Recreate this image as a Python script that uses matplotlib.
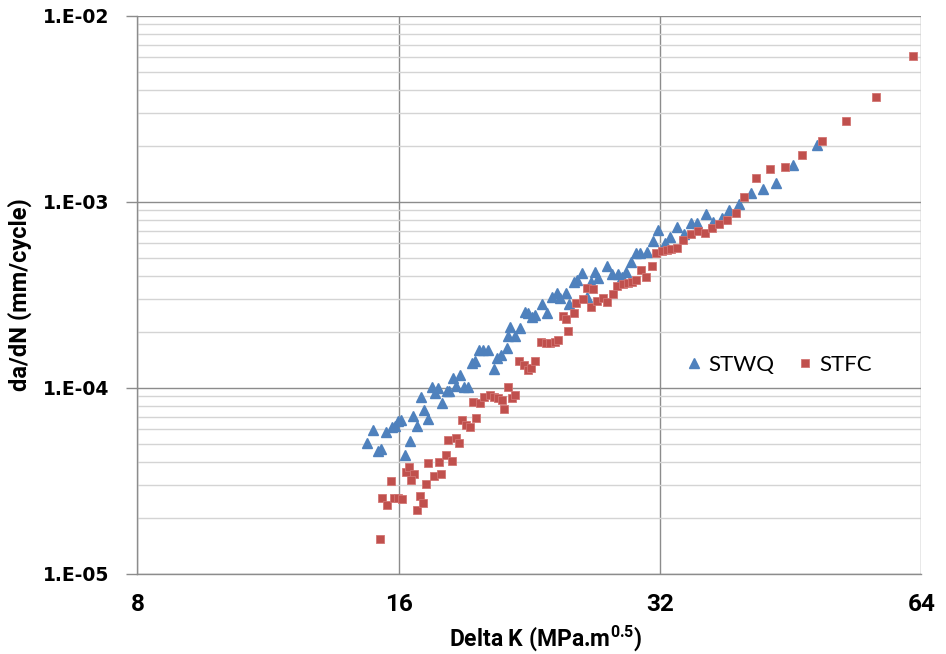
import matplotlib
matplotlib.use("Agg")
import matplotlib.pyplot as plt
from matplotlib.ticker import FixedLocator, LogLocator, NullFormatter, NullLocator

# STWQ (triangles) - Delta K and da/dN
stwq_dk = [14.73, 14.95, 15.16, 15.27, 15.47, 15.70, 15.84, 15.99, 16.12, 16.27,
           16.49, 16.63, 16.81, 16.97, 17.12, 17.31, 17.46, 17.62, 17.77, 17.97,
           18.17, 18.30, 18.46, 18.63, 18.83, 19.05, 19.24, 19.42, 19.61, 19.80,
           20.02, 20.27, 20.60, 20.77, 20.97, 21.31, 21.40, 21.48, 21.80, 22.09,
           22.37, 22.56, 22.77, 22.97, 23.40, 23.73, 24.01, 24.37, 24.54, 24.96,
           25.12, 25.47, 25.70, 26.00, 26.35, 26.63, 26.93, 27.17, 27.83, 28.15,
           28.65, 28.91, 29.24, 29.61, 30.03, 30.35, 30.94, 31.44, 31.81, 32.47,
           32.90, 33.49, 34.08, 34.72, 35.30, 36.14, 36.86, 37.69, 38.45, 39.48,
           40.70, 42.09, 43.56, 45.57, 48.53]
stwq_dadn = [5.02e-5, 5.89e-5, 4.54e-5, 4.68e-5, 5.80e-5, 6.15e-5, 6.26e-5, 6.65e-5, 6.71e-5, 4.35e-5,
             5.20e-5, 7.04e-5, 6.22e-5, 8.94e-5, 7.56e-5, 6.77e-5, 1.005e-4, 9.36e-5, 9.93e-5, 8.30e-5,
             9.63e-5, 9.63e-5, 1.123e-4, 1.021e-4, 1.170e-4, 1.009e-4, 1.009e-4, 1.352e-4, 1.391e-4, 1.595e-4,
             1.595e-4, 1.595e-4, 1.257e-4, 1.439e-4, 1.490e-4, 1.635e-4, 1.908e-4, 2.128e-4, 1.889e-4, 2.086e-4,
             2.562e-4, 2.512e-4, 2.408e-4, 2.460e-4, 2.801e-4, 2.521e-4, 3.085e-4, 3.241e-4, 3.036e-4, 3.229e-4,
             2.829e-4, 3.715e-4, 3.793e-4, 4.121e-4, 3.085e-4, 3.715e-4, 4.203e-4, 3.874e-4, 4.511e-4, 4.085e-4,
             4.085e-4, 3.951e-4, 4.203e-4, 4.757e-4, 5.319e-4, 5.319e-4, 5.385e-4, 6.185e-4, 7.043e-4, 6.019e-4,
             6.435e-4, 7.311e-4, 6.706e-4, 7.683e-4, 7.711e-4, 8.567e-4, 7.730e-4, 8.144e-4, 9.057e-4, 9.755e-4,
             1.114e-3, 1.173e-3, 1.256e-3, 1.575e-3, 2.018e-3]

# STFC (squares)
stfc_dk = [15.23, 15.29, 15.50, 15.68, 15.79, 15.96, 16.14, 16.33, 16.46, 16.65,
           16.53, 16.81, 16.93, 17.07, 17.19, 17.31, 17.58, 17.81, 17.92, 18.13,
           18.45, 18.25, 18.62, 18.79, 18.91, 19.13, 19.33, 19.66, 19.50, 19.85,
           20.09, 20.36, 20.59, 20.81, 21.05, 21.14, 21.40, 21.59, 21.78, 22.00,
           22.32, 22.52, 22.73, 23.00, 23.33, 23.64, 23.90, 24.22, 24.43, 24.76,
           24.94, 25.09, 25.45, 25.62, 26.07, 26.35, 26.81, 26.63, 27.10, 27.49,
           27.78, 28.23, 28.57, 29.03, 29.42, 29.69, 30.03, 30.41, 30.83, 31.30,
           31.66, 32.21, 32.58, 32.99, 33.50, 34.04, 34.72, 35.38, 36.06, 36.70,
           37.45, 38.26, 39.14, 39.99, 41.28, 42.85, 44.59, 46.60, 49.14, 52.42,
           56.75, 62.65]
stfc_dadn = [1.53e-5, 2.54e-5, 2.34e-5, 3.14e-5, 2.54e-5, 2.54e-5, 2.51e-5, 3.51e-5, 3.75e-5, 3.45e-5,
             3.20e-5, 2.21e-5, 2.62e-5, 2.40e-5, 3.04e-5, 3.94e-5, 3.36e-5, 3.99e-5, 3.44e-5, 4.36e-5,
             4.02e-5, 5.23e-5, 5.38e-5, 5.04e-5, 6.69e-5, 6.34e-5, 6.15e-5, 6.90e-5, 8.41e-5, 8.27e-5,
             8.86e-5, 9.08e-5, 8.91e-5, 8.77e-5, 8.62e-5, 7.70e-5, 1.005e-4, 8.82e-5, 9.19e-5, 1.388e-4,
             1.324e-4, 1.249e-4, 1.276e-4, 1.391e-4, 1.768e-4, 1.733e-4, 1.733e-4, 1.768e-4, 1.805e-4, 2.429e-4,
             2.332e-4, 2.013e-4, 2.530e-4, 2.843e-4, 2.987e-4, 3.423e-4, 3.381e-4, 2.705e-4, 2.936e-4, 3.024e-4,
             2.900e-4, 3.190e-4, 3.522e-4, 3.610e-4, 3.669e-4, 3.715e-4, 3.793e-4, 4.292e-4, 3.951e-4, 4.511e-4,
             5.300e-4, 5.452e-4, 5.499e-4, 5.547e-4, 5.637e-4, 6.224e-4, 6.666e-4, 6.983e-4, 6.812e-4, 7.194e-4,
             7.542e-4, 8.003e-4, 8.663e-4, 1.060e-3, 1.341e-3, 1.493e-3, 1.542e-3, 1.783e-3, 2.120e-3, 2.726e-3,
             3.668e-3, 6.094e-3]

x_ticks = [8, 16, 32, 64]
x_tick_labels = ["8", "16", "32", "64"]
y_ticks = [1e-5, 1e-4, 1e-3, 1e-2]
y_tick_labels = ["1.E-05", "1.E-04", "1.E-03", "1.E-02"]

BLUE = "#4f81bd"
RED = "#c0504d"
MAJOR_GRID = "#8c8c8c"
MINOR_GRID = "#d4d4d4"
BOLD_NARROW = ["Roboto", "DejaVu Sans"]
LEGEND_FONT = ["Lato", "DejaVu Sans"]

fig = plt.figure(figsize=(9.46, 6.54), dpi=100)
ax = fig.add_axes([0.1452, 0.1228, 0.8287, 0.8532])

ax.set_xscale("log", base=2)
ax.set_yscale("log")
ax.set_xlim(8, 64)
ax.set_ylim(1e-5, 1e-2)

ax.plot(stwq_dk, stwq_dadn, linestyle="none", marker="^", markersize=6.5,
        color=BLUE, markeredgecolor=BLUE, label="STWQ", zorder=3)
ax.plot(stfc_dk, stfc_dadn, linestyle="none", marker="s", markersize=5.6,
        color=RED, markeredgecolor="#d27573", markeredgewidth=0.6, label="STFC", zorder=4)

# ticks and grid
ax.xaxis.set_major_locator(FixedLocator(x_ticks))
ax.xaxis.set_minor_locator(NullLocator())
ax.set_xticklabels(x_tick_labels)
ax.yaxis.set_major_locator(FixedLocator(y_ticks))
ax.yaxis.set_minor_locator(LogLocator(base=10, subs=range(2, 10)))
ax.yaxis.set_minor_formatter(NullFormatter())
ax.set_yticklabels(y_tick_labels)

ax.grid(True, which="major", axis="both", color=MAJOR_GRID, linewidth=1.0, zorder=0)
ax.grid(True, which="minor", axis="y", color=MINOR_GRID, linewidth=1.0, zorder=0)
ax.set_axisbelow(True)

for side in ["top", "right"]:
    ax.spines[side].set_visible(False)
for side in ["left", "bottom"]:
    ax.spines[side].set_color(MAJOR_GRID)
    ax.spines[side].set_linewidth(1.0)

ax.tick_params(axis="y", which="major", length=8, width=1, color=MAJOR_GRID, pad=12)
ax.tick_params(axis="y", which="minor", length=0)
ax.tick_params(axis="x", which="major", length=0, pad=14)

for lab in ax.get_yticklabels():
    lab.set_fontfamily("DejaVu Sans")
    lab.set_fontweight("bold")
    lab.set_fontsize(13.5)
for lab in ax.get_xticklabels():
    lab.set_fontfamily(BOLD_NARROW)
    lab.set_fontweight("bold")
    lab.set_fontsize(17.5)

ax.set_xlabel("Delta K (MPa.m$\\mathregular{^{0.5}}$)", fontsize=16.5, fontweight="bold",
              family=BOLD_NARROW, labelpad=5)
ax.xaxis.label.set_x(0.521)
ax.set_ylabel("da/dN (mm/cycle)", fontsize=17, fontweight="bold",
              family=BOLD_NARROW, labelpad=8)

ax.legend(loc="center left", bbox_to_anchor=(0.667, 0.374), ncol=2, frameon=False,
          handletextpad=0.05, columnspacing=0.8, handlelength=1.2,
          prop={"family": LEGEND_FONT, "size": 16})

fig.savefig("out.png", dpi=100)
